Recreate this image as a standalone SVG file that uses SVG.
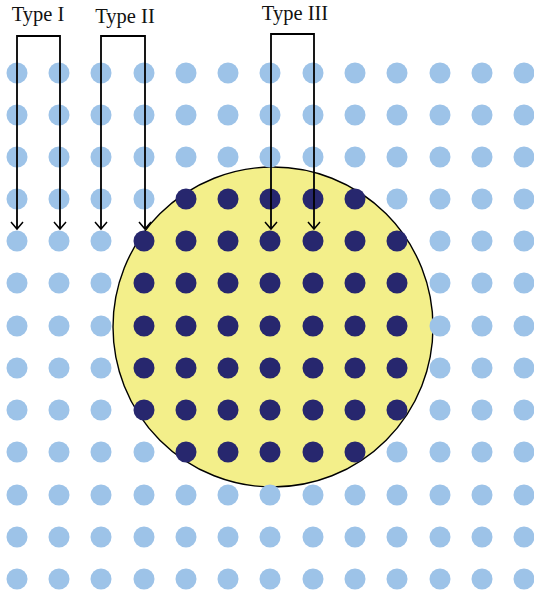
<svg xmlns="http://www.w3.org/2000/svg" width="534" height="597" viewBox="0 0 534 597">
<defs>
<style>
.l{fill:#9dc3e8}
.d{fill:#27276e}
.c{fill:none;stroke:#000;stroke-width:1.8}
.t{font-family:"Liberation Serif",serif;font-size:20.5px;fill:#111;text-anchor:middle}
</style>
<marker id="ah" markerWidth="12" markerHeight="14" viewBox="0 0 12 14" refX="9" refY="7" orient="auto-start-reverse" markerUnits="userSpaceOnUse">
<path d="M2,1 L9,7 L2,13" fill="none" stroke="#000" stroke-width="1.5"/>
</marker>
</defs>
<rect width="534" height="597" fill="#fff"/>
<g id="region">
<circle cx="273" cy="327" r="160" fill="#f3ef8a" stroke="#000" stroke-width="1.4"/>
</g>
<g id="light-dots">
<g id="lr0"><circle class="l" cx="17" cy="73" r="10.5"/><circle class="l" cx="59" cy="73" r="10.5"/><circle class="l" cx="101" cy="73" r="10.5"/><circle class="l" cx="144" cy="73" r="10.5"/><circle class="l" cx="186" cy="73" r="10.5"/><circle class="l" cx="228" cy="73" r="10.5"/><circle class="l" cx="270" cy="73" r="10.5"/><circle class="l" cx="313" cy="73" r="10.5"/><circle class="l" cx="355" cy="73" r="10.5"/><circle class="l" cx="397" cy="73" r="10.5"/><circle class="l" cx="440" cy="73" r="10.5"/><circle class="l" cx="482" cy="73" r="10.5"/><circle class="l" cx="524" cy="73" r="10.5"/></g>
<g id="lr1"><circle class="l" cx="17" cy="115" r="10.5"/><circle class="l" cx="59" cy="115" r="10.5"/><circle class="l" cx="101" cy="115" r="10.5"/><circle class="l" cx="144" cy="115" r="10.5"/><circle class="l" cx="186" cy="115" r="10.5"/><circle class="l" cx="228" cy="115" r="10.5"/><circle class="l" cx="270" cy="115" r="10.5"/><circle class="l" cx="313" cy="115" r="10.5"/><circle class="l" cx="355" cy="115" r="10.5"/><circle class="l" cx="397" cy="115" r="10.5"/><circle class="l" cx="440" cy="115" r="10.5"/><circle class="l" cx="482" cy="115" r="10.5"/><circle class="l" cx="524" cy="115" r="10.5"/></g>
<g id="lr2"><circle class="l" cx="17" cy="157" r="10.5"/><circle class="l" cx="59" cy="157" r="10.5"/><circle class="l" cx="101" cy="157" r="10.5"/><circle class="l" cx="144" cy="157" r="10.5"/><circle class="l" cx="186" cy="157" r="10.5"/><circle class="l" cx="228" cy="157" r="10.5"/><circle class="l" cx="270" cy="157" r="10.5"/><circle class="l" cx="313" cy="157" r="10.5"/><circle class="l" cx="355" cy="157" r="10.5"/><circle class="l" cx="397" cy="157" r="10.5"/><circle class="l" cx="440" cy="157" r="10.5"/><circle class="l" cx="482" cy="157" r="10.5"/><circle class="l" cx="524" cy="157" r="10.5"/></g>
<g id="lr3"><circle class="l" cx="17" cy="199" r="10.5"/><circle class="l" cx="59" cy="199" r="10.5"/><circle class="l" cx="101" cy="199" r="10.5"/><circle class="l" cx="144" cy="199" r="10.5"/><circle class="l" cx="397" cy="199" r="10.5"/><circle class="l" cx="440" cy="199" r="10.5"/><circle class="l" cx="482" cy="199" r="10.5"/><circle class="l" cx="524" cy="199" r="10.5"/></g>
<g id="lr4"><circle class="l" cx="17" cy="241" r="10.5"/><circle class="l" cx="59" cy="241" r="10.5"/><circle class="l" cx="101" cy="241" r="10.5"/><circle class="l" cx="440" cy="241" r="10.5"/><circle class="l" cx="482" cy="241" r="10.5"/><circle class="l" cx="524" cy="241" r="10.5"/></g>
<g id="lr5"><circle class="l" cx="17" cy="283" r="10.5"/><circle class="l" cx="59" cy="283" r="10.5"/><circle class="l" cx="101" cy="283" r="10.5"/><circle class="l" cx="440" cy="283" r="10.5"/><circle class="l" cx="482" cy="283" r="10.5"/><circle class="l" cx="524" cy="283" r="10.5"/></g>
<g id="lr6"><circle class="l" cx="17" cy="326" r="10.5"/><circle class="l" cx="59" cy="326" r="10.5"/><circle class="l" cx="101" cy="326" r="10.5"/><circle class="l" cx="440" cy="326" r="10.5"/><circle class="l" cx="482" cy="326" r="10.5"/><circle class="l" cx="524" cy="326" r="10.5"/></g>
<g id="lr7"><circle class="l" cx="17" cy="368" r="10.5"/><circle class="l" cx="59" cy="368" r="10.5"/><circle class="l" cx="101" cy="368" r="10.5"/><circle class="l" cx="440" cy="368" r="10.5"/><circle class="l" cx="482" cy="368" r="10.5"/><circle class="l" cx="524" cy="368" r="10.5"/></g>
<g id="lr8"><circle class="l" cx="17" cy="410" r="10.5"/><circle class="l" cx="59" cy="410" r="10.5"/><circle class="l" cx="101" cy="410" r="10.5"/><circle class="l" cx="440" cy="410" r="10.5"/><circle class="l" cx="482" cy="410" r="10.5"/><circle class="l" cx="524" cy="410" r="10.5"/></g>
<g id="lr9"><circle class="l" cx="17" cy="452" r="10.5"/><circle class="l" cx="59" cy="452" r="10.5"/><circle class="l" cx="101" cy="452" r="10.5"/><circle class="l" cx="144" cy="452" r="10.5"/><circle class="l" cx="397" cy="452" r="10.5"/><circle class="l" cx="440" cy="452" r="10.5"/><circle class="l" cx="482" cy="452" r="10.5"/><circle class="l" cx="524" cy="452" r="10.5"/></g>
<g id="lr10"><circle class="l" cx="17" cy="495" r="10.5"/><circle class="l" cx="59" cy="495" r="10.5"/><circle class="l" cx="101" cy="495" r="10.5"/><circle class="l" cx="144" cy="495" r="10.5"/><circle class="l" cx="186" cy="495" r="10.5"/><circle class="l" cx="228" cy="495" r="10.5"/><circle class="l" cx="270" cy="495" r="10.5"/><circle class="l" cx="313" cy="495" r="10.5"/><circle class="l" cx="355" cy="495" r="10.5"/><circle class="l" cx="397" cy="495" r="10.5"/><circle class="l" cx="440" cy="495" r="10.5"/><circle class="l" cx="482" cy="495" r="10.5"/><circle class="l" cx="524" cy="495" r="10.5"/></g>
<g id="lr11"><circle class="l" cx="17" cy="537" r="10.5"/><circle class="l" cx="59" cy="537" r="10.5"/><circle class="l" cx="101" cy="537" r="10.5"/><circle class="l" cx="144" cy="537" r="10.5"/><circle class="l" cx="186" cy="537" r="10.5"/><circle class="l" cx="228" cy="537" r="10.5"/><circle class="l" cx="270" cy="537" r="10.5"/><circle class="l" cx="313" cy="537" r="10.5"/><circle class="l" cx="355" cy="537" r="10.5"/><circle class="l" cx="397" cy="537" r="10.5"/><circle class="l" cx="440" cy="537" r="10.5"/><circle class="l" cx="482" cy="537" r="10.5"/><circle class="l" cx="524" cy="537" r="10.5"/></g>
<g id="lr12"><circle class="l" cx="17" cy="579" r="10.5"/><circle class="l" cx="59" cy="579" r="10.5"/><circle class="l" cx="101" cy="579" r="10.5"/><circle class="l" cx="144" cy="579" r="10.5"/><circle class="l" cx="186" cy="579" r="10.5"/><circle class="l" cx="228" cy="579" r="10.5"/><circle class="l" cx="270" cy="579" r="10.5"/><circle class="l" cx="313" cy="579" r="10.5"/><circle class="l" cx="355" cy="579" r="10.5"/><circle class="l" cx="397" cy="579" r="10.5"/><circle class="l" cx="440" cy="579" r="10.5"/><circle class="l" cx="482" cy="579" r="10.5"/><circle class="l" cx="524" cy="579" r="10.5"/></g>
</g>
<g id="dark-dots">
<g id="dr3"><circle class="d" cx="186" cy="199" r="10.5"/><circle class="d" cx="228" cy="199" r="10.5"/><circle class="d" cx="270" cy="199" r="10.5"/><circle class="d" cx="313" cy="199" r="10.5"/><circle class="d" cx="355" cy="199" r="10.5"/></g>
<g id="dr4"><circle class="d" cx="144" cy="241" r="10.5"/><circle class="d" cx="186" cy="241" r="10.5"/><circle class="d" cx="228" cy="241" r="10.5"/><circle class="d" cx="270" cy="241" r="10.5"/><circle class="d" cx="313" cy="241" r="10.5"/><circle class="d" cx="355" cy="241" r="10.5"/><circle class="d" cx="397" cy="241" r="10.5"/></g>
<g id="dr5"><circle class="d" cx="144" cy="283" r="10.5"/><circle class="d" cx="186" cy="283" r="10.5"/><circle class="d" cx="228" cy="283" r="10.5"/><circle class="d" cx="270" cy="283" r="10.5"/><circle class="d" cx="313" cy="283" r="10.5"/><circle class="d" cx="355" cy="283" r="10.5"/><circle class="d" cx="397" cy="283" r="10.5"/></g>
<g id="dr6"><circle class="d" cx="144" cy="326" r="10.5"/><circle class="d" cx="186" cy="326" r="10.5"/><circle class="d" cx="228" cy="326" r="10.5"/><circle class="d" cx="270" cy="326" r="10.5"/><circle class="d" cx="313" cy="326" r="10.5"/><circle class="d" cx="355" cy="326" r="10.5"/><circle class="d" cx="397" cy="326" r="10.5"/></g>
<g id="dr7"><circle class="d" cx="144" cy="368" r="10.5"/><circle class="d" cx="186" cy="368" r="10.5"/><circle class="d" cx="228" cy="368" r="10.5"/><circle class="d" cx="270" cy="368" r="10.5"/><circle class="d" cx="313" cy="368" r="10.5"/><circle class="d" cx="355" cy="368" r="10.5"/><circle class="d" cx="397" cy="368" r="10.5"/></g>
<g id="dr8"><circle class="d" cx="144" cy="410" r="10.5"/><circle class="d" cx="186" cy="410" r="10.5"/><circle class="d" cx="228" cy="410" r="10.5"/><circle class="d" cx="270" cy="410" r="10.5"/><circle class="d" cx="313" cy="410" r="10.5"/><circle class="d" cx="355" cy="410" r="10.5"/><circle class="d" cx="397" cy="410" r="10.5"/></g>
<g id="dr9"><circle class="d" cx="186" cy="452" r="10.5"/><circle class="d" cx="228" cy="452" r="10.5"/><circle class="d" cx="270" cy="452" r="10.5"/><circle class="d" cx="313" cy="452" r="10.5"/><circle class="d" cx="355" cy="452" r="10.5"/></g>
</g>
<g id="connectors">
<path class="c" d="M17,229 V36 H60 V229" marker-start="url(#ah)" marker-end="url(#ah)"/>
<path class="c" d="M101,229 V36 H145 V229" marker-start="url(#ah)" marker-end="url(#ah)"/>
<path class="c" d="M271,229 V34 H314 V229" marker-start="url(#ah)" marker-end="url(#ah)"/>
</g>
<g id="labels">
<text class="t" x="38" y="21">Type I</text>
<text class="t" x="125" y="23">Type II</text>
<text class="t" x="295" y="20">Type III</text>
</g>
</svg>
